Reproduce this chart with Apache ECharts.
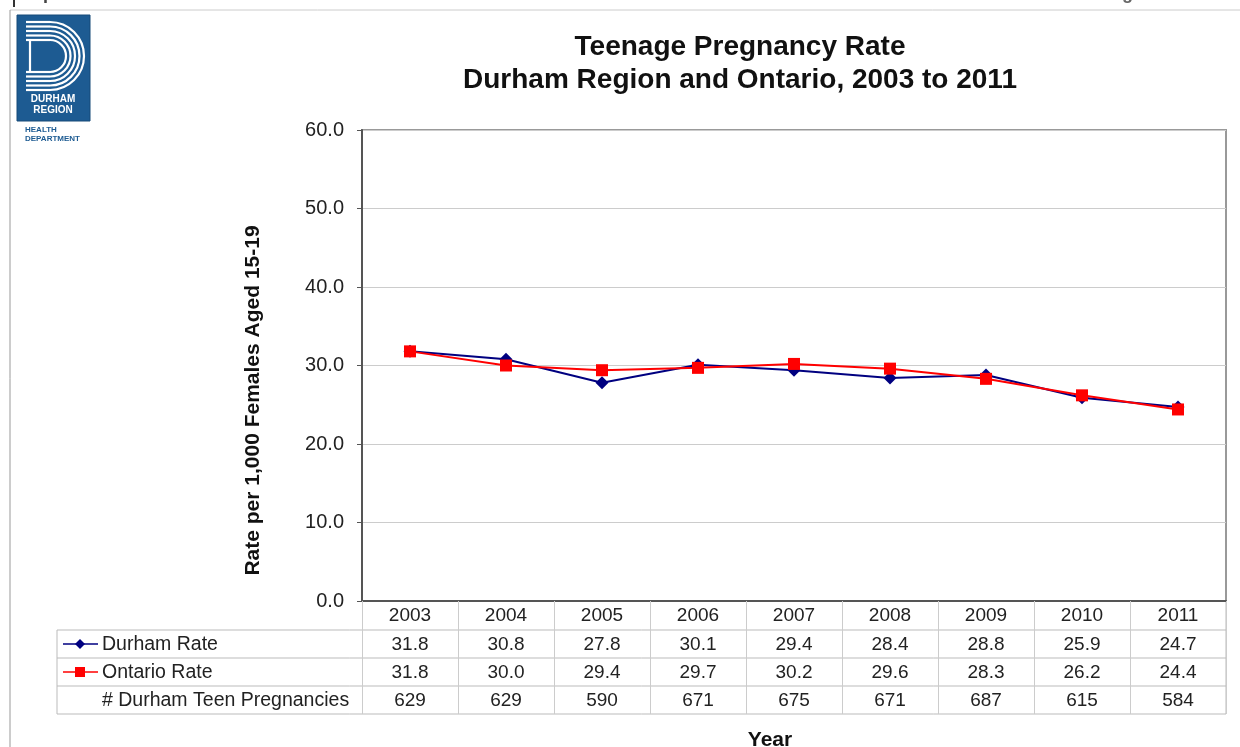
<!DOCTYPE html>
<html>
<head>
<meta charset="utf-8">
<script src="https://cdn.jsdelivr.net/npm/echarts@6/dist/echarts.min.js"></script>
<style>html,body{margin:0;padding:0;background:#fff;}#c{width:1240px;height:747px;}</style>
</head>
<body>
<div id="c"></div>
<script>
const years = ['2003','2004','2005','2006','2007','2008','2009','2010','2011'];
const durhamRate = [31.8, 30.8, 27.8, 30.1, 29.4, 28.4, 28.8, 25.9, 24.7];
const ontarioRate = [31.8, 30.0, 29.4, 29.7, 30.2, 29.6, 28.3, 26.2, 24.4];
const durhamPregnancies = [629, 629, 590, 671, 675, 671, 687, 615, 584];
const rowLabels = ['Durham Rate', 'Ontario Rate', '# Durham Teen Pregnancies'];
const titleText = 'Teenage Pregnancy Rate\nDurham Region and Ontario, 2003 to 2011';
const yName = 'Rate per 1,000 Females Aged 15-19';
const xName = 'Year';
const headerLeft = 'Reproductive Health At A Glance';
const headerRight = 'August 2013';

const FONT = '"Liberation Sans", Arial, sans-serif';
const G = {left: 362, top: 130, width: 864, height: 471};
const rowTops = [630, 658, 686, 714];
const tableLeft = 57;

const chart = echarts.init(document.getElementById('c'));

function logo() {
  const out = [];
  const cx = 50, cy = 56;
  const blue = '#1d5b92';
  [34, 29.5, 25, 20.5, 16].forEach(r => {
    out.push({type: 'arc', shape: {cx: cx, cy: cy, r: r, startAngle: -Math.PI / 2, endAngle: Math.PI / 2, clockwise: true},
      style: {stroke: '#fff', lineWidth: 2.2, fill: null}});
    out.push({type: 'line', shape: {x1: 26, y1: cy - r, x2: cx, y2: cy - r}, style: {stroke: '#fff', lineWidth: 2.2}});
    out.push({type: 'line', shape: {x1: 26, y1: cy + r, x2: cx, y2: cy + r}, style: {stroke: '#fff', lineWidth: 2.2}});
  });
  out.push({type: 'line', shape: {x1: 30, y1: cy - 16, x2: 30, y2: cy + 16}, style: {stroke: '#fff', lineWidth: 2.2}});
  return [
    {type: 'rect', shape: {x: 17, y: 15, width: 73, height: 106}, style: {fill: blue, stroke: '#174a78', lineWidth: 1}},
    ...out,
    {type: 'text', x: 53, y: 99, style: {text: 'DURHAM', fill: '#fff', font: 'bold 10px ' + FONT, align: 'center', verticalAlign: 'middle'}},
    {type: 'text', x: 53, y: 110, style: {text: 'REGION', fill: '#fff', font: 'bold 10px ' + FONT, align: 'center', verticalAlign: 'middle'}},
    {type: 'text', x: 25, y: 130, style: {text: 'HEALTH', fill: blue, font: 'bold 8px ' + FONT, verticalAlign: 'middle'}},
    {type: 'text', x: 25, y: 139, style: {text: 'DEPARTMENT', fill: blue, font: 'bold 8px ' + FONT, verticalAlign: 'middle'}}
  ];
}

const option = {
  backgroundColor: '#fff',
  animation: false,
  title: {
    text: titleText, left: 735, top: 26, textAlign: 'center',
    textStyle: {fontFamily: FONT, fontSize: 28, fontWeight: 'bold', color: '#111', lineHeight: 33}
  },
  grid: {left: G.left, top: G.top, width: G.width, height: G.height, outerBoundsMode: 'none', containLabel: false,
    show: true, borderColor: '#999', borderWidth: 2, backgroundColor: '#fff'},
  xAxis: {
    type: 'category', data: years, boundaryGap: true,
    axisLine: {lineStyle: {color: '#555', width: 2}},
    axisTick: {show: true, length: 113, interval: 0, lineStyle: {color: '#ccc', width: 1}},
    axisLabel: {fontFamily: FONT, fontSize: 19, color: '#222', margin: 5, interval: 0},
    name: xName, nameLocation: 'middle', nameGap: 129,
    nameTextStyle: {fontFamily: FONT, fontSize: 21, fontWeight: 'bold', color: '#111', padding: [0, 48, 0, 0]}
  },
  yAxis: {
    type: 'value', min: 0, max: 60, interval: 10,
    axisLine: {show: true, lineStyle: {color: '#555', width: 2}},
    axisTick: {show: true, length: 5, lineStyle: {color: '#555'}},
    splitLine: {lineStyle: {color: '#ccc', width: 1}},
    axisLabel: {fontFamily: FONT, fontSize: 20, color: '#222', margin: 18, formatter: v => v.toFixed(1)},
    name: yName, nameLocation: 'middle', nameGap: 98, nameRotate: 90,
    nameTextStyle: {fontFamily: FONT, fontSize: 21, fontWeight: 'bold', color: '#111', padding: [0, 70, 0, 0]}
  },
  series: [
    {name: 'Durham Rate', type: 'line', data: durhamRate, symbol: 'diamond', symbolSize: 13,
      lineStyle: {color: '#000080', width: 2}, itemStyle: {color: '#000080'}, z: 2},
    {name: 'Ontario Rate', type: 'line', data: ontarioRate, symbol: 'rect', symbolSize: 12,
      lineStyle: {color: '#ff0000', width: 2}, itemStyle: {color: '#ff0000'}, z: 3}
  ]
};
chart.setOption(option);

const right = G.left + G.width;
const els = [
  {type: 'text', x: 20, y: 3, style: {text: headerLeft, font: 'bold 18px ' + FONT, fill: '#444', verticalAlign: 'bottom'}},
  {type: 'text', x: 1098, y: 3, style: {text: headerRight, font: 'bold 18px ' + FONT, fill: '#666', verticalAlign: 'bottom'}},
  {type: 'line', shape: {x1: 14, y1: 0, x2: 14, y2: 7}, style: {stroke: '#333', lineWidth: 2}},
  {type: 'line', shape: {x1: 10, y1: 10, x2: 1240, y2: 10}, style: {stroke: '#ccc', lineWidth: 1}},
  {type: 'line', shape: {x1: 10, y1: 10, x2: 10, y2: 747}, style: {stroke: '#999', lineWidth: 1}},
  ...logo()
];
rowTops.forEach(y => els.push({type: 'line', shape: {x1: tableLeft, y1: y, x2: right, y2: y}, style: {stroke: '#bbb', lineWidth: 1}}));
els.push({type: 'line', shape: {x1: tableLeft, y1: rowTops[0], x2: tableLeft, y2: rowTops[3]}, style: {stroke: '#bbb', lineWidth: 1}});
els.push({type: 'line', shape: {x1: right, y1: G.top + G.height, x2: right, y2: rowTops[3]}, style: {stroke: '#bbb', lineWidth: 1}});

const rows = [durhamRate.map(v => v.toFixed(1)), ontarioRate.map(v => v.toFixed(1)), durhamPregnancies.map(v => String(v))];
rows.forEach((vals, r) => {
  const yc = (rowTops[r] + rowTops[r + 1]) / 2 + 1;
  els.push({type: 'text', x: 102, y: yc, style: {text: rowLabels[r], font: '19.5px ' + FONT, fill: '#222', verticalAlign: 'middle'}});
  vals.forEach((t, i) => {
    const x = chart.convertToPixel({xAxisIndex: 0}, i);
    els.push({type: 'text', x: x, y: yc, style: {text: t, font: '19px ' + FONT, fill: '#222', align: 'center', verticalAlign: 'middle'}});
  });
});
const y1 = (rowTops[0] + rowTops[1]) / 2, y2 = (rowTops[1] + rowTops[2]) / 2;
els.push({type: 'line', shape: {x1: 63, y1: y1, x2: 98, y2: y1}, style: {stroke: '#000080', lineWidth: 1.5}});
els.push({type: 'polygon', shape: {points: [[80, y1 - 5], [85, y1], [80, y1 + 5], [75, y1]]}, style: {fill: '#000080'}});
els.push({type: 'line', shape: {x1: 63, y1: y2, x2: 98, y2: y2}, style: {stroke: '#ff0000', lineWidth: 1.5}});
els.push({type: 'rect', shape: {x: 75, y: y2 - 5, width: 10, height: 10}, style: {fill: '#ff0000'}});

chart.setOption({graphic: {elements: els}});
</script>
</body>
</html>
